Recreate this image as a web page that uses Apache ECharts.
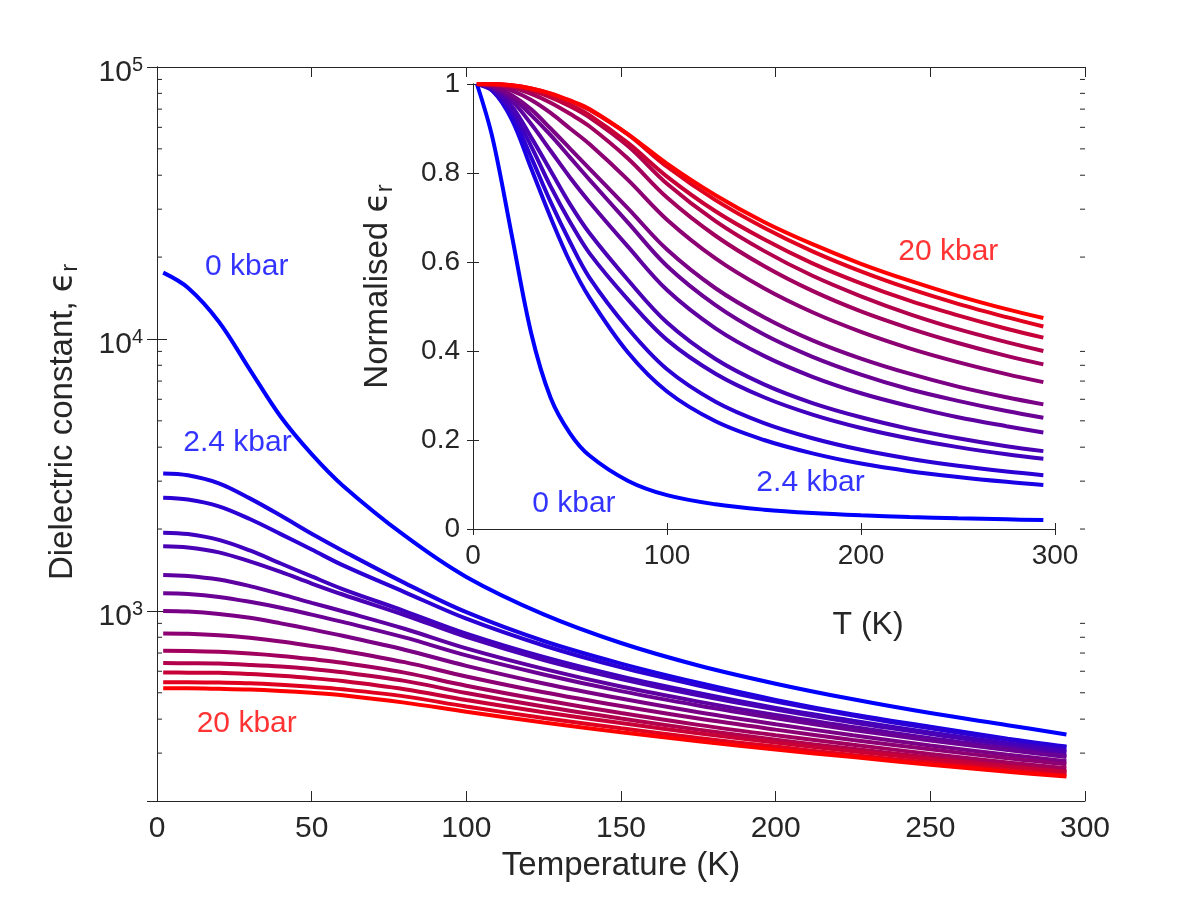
<!DOCTYPE html>
<html>
<head>
<meta charset="utf-8">
<title>Dielectric constant vs temperature</title>
<script src="https://cdn.jsdelivr.net/npm/echarts@6/dist/echarts.min.js"></script>
<style>
html, body { margin: 0; padding: 0; background: #fff; }
#chart { width: 1200px; height: 900px; }
</style>
</head>
<body>
<div id="chart"></div>
<script>
// temperature points (K), shared by both panels
var temps = [2, 10, 20, 30, 40, 50, 60, 80, 100, 125, 150, 175, 200, 225, 250, 275, 294];

// main panel: dielectric constant, one row per pressure (0 kbar ... 20 kbar)
var mainEps = [
    [17540, 15435, 11576, 7718, 5174, 3771, 2894, 1894, 1333, 971, 762, 630, 540, 473, 421, 380, 351],
    [3201, 3153, 2945, 2593, 2241, 1921, 1665, 1268, 989, 775, 640, 544, 471, 416, 375, 339, 317],
    [2607, 2568, 2425, 2177, 1916, 1682, 1473, 1173, 936, 746, 620, 532, 464, 412, 370, 336, 315],
    [1940, 1917, 1824, 1668, 1494, 1339, 1203, 999, 825, 677, 574, 499, 440, 395, 357, 326, 307],
    [1728, 1711, 1642, 1521, 1391, 1261, 1149, 966, 802, 660, 562, 489, 434, 389, 353, 321, 302],
    [1356, 1345, 1304, 1234, 1153, 1071, 997, 860, 728, 612, 527, 464, 414, 374, 340, 313, 294],
    [1161, 1154, 1126, 1080, 1027, 969, 911, 799, 686, 584, 507, 449, 403, 365, 334, 308, 290],
    [1000, 995, 975, 943, 900, 855, 810, 720, 628, 541, 476, 424, 383, 349, 320, 296, 280],
    [826, 824, 814, 796, 772, 743, 714, 648, 574, 502, 447, 402, 366, 335, 310, 287, 273],
    [713, 712, 707, 697, 683, 665, 645, 593, 531, 470, 421, 381, 349, 322, 298, 277, 264],
    [643, 642, 640, 633, 624, 611, 595, 553, 499, 445, 402, 366, 336, 311, 289, 270, 257],
    [594, 593, 592, 586, 577, 566, 552, 515, 470, 424, 387, 355, 328, 305, 285, 267, 255],
    [547, 547, 545, 542, 535, 526, 515, 485, 445, 404, 370, 341, 317, 295, 277, 260, 249],
    [519, 519, 517, 514, 508, 500, 490, 460, 426, 389, 358, 332, 309, 290, 272, 256, 246]
];

// inset: normalised dielectric constant, same rows
var normEps = [
    [1, 0.88, 0.66, 0.44, 0.295, 0.215, 0.165, 0.108, 0.076, 0.0554, 0.0434, 0.0359, 0.0308, 0.027, 0.024, 0.0217, 0.02],
    [1, 0.985, 0.92, 0.81, 0.70, 0.60, 0.52, 0.396, 0.309, 0.242, 0.200, 0.170, 0.147, 0.130, 0.117, 0.106, 0.099],
    [1, 0.985, 0.93, 0.835, 0.735, 0.645, 0.565, 0.45, 0.359, 0.286, 0.238, 0.204, 0.178, 0.158, 0.142, 0.129, 0.121],
    [1, 0.988, 0.94, 0.86, 0.77, 0.69, 0.62, 0.515, 0.425, 0.349, 0.296, 0.257, 0.227, 0.2035, 0.184, 0.168, 0.158],
    [1, 0.99, 0.95, 0.88, 0.805, 0.73, 0.665, 0.559, 0.464, 0.382, 0.325, 0.283, 0.251, 0.225, 0.204, 0.186, 0.175],
    [1, 0.992, 0.962, 0.91, 0.85, 0.79, 0.735, 0.634, 0.537, 0.451, 0.389, 0.342, 0.305, 0.276, 0.251, 0.231, 0.217],
    [1, 0.994, 0.97, 0.93, 0.885, 0.835, 0.785, 0.688, 0.591, 0.503, 0.437, 0.387, 0.347, 0.314, 0.288, 0.265, 0.25],
    [1, 0.995, 0.975, 0.943, 0.9, 0.855, 0.81, 0.72, 0.628, 0.541, 0.476, 0.424, 0.383, 0.349, 0.320, 0.296, 0.28],
    [1, 0.997, 0.985, 0.964, 0.935, 0.90, 0.865, 0.784, 0.695, 0.608, 0.541, 0.487, 0.443, 0.406, 0.375, 0.348, 0.33],
    [1, 0.998, 0.992, 0.978, 0.958, 0.933, 0.905, 0.832, 0.745, 0.659, 0.591, 0.535, 0.489, 0.451, 0.418, 0.389, 0.37],
    [1, 0.999, 0.995, 0.985, 0.97, 0.95, 0.925, 0.86, 0.776, 0.692, 0.625, 0.569, 0.523, 0.483, 0.449, 0.42, 0.40],
    [1, 0.999, 0.996, 0.987, 0.972, 0.953, 0.93, 0.867, 0.792, 0.714, 0.651, 0.597, 0.552, 0.513, 0.48, 0.45, 0.43],
    [1, 1, 0.997, 0.99, 0.978, 0.962, 0.942, 0.886, 0.814, 0.739, 0.677, 0.624, 0.579, 0.54, 0.506, 0.476, 0.455],
    [1, 1, 0.997, 0.99, 0.979, 0.963, 0.944, 0.887, 0.821, 0.75, 0.69, 0.64, 0.596, 0.558, 0.524, 0.494, 0.474]
];

// text labels placed at data coordinates [T, value]
var mainNotes = [
    { text: '0 kbar', at: [29, 18440], color: '#0000ff' },
    { text: '2.4 kbar', at: [26, 4160], color: '#0000ff' },
    { text: '20 kbar', at: [29, 384], color: '#ff0000' }
];
var insetNotes = [
    { text: '20 kbar', at: [245, 0.622], color: '#ff0000' },
    { text: '0 kbar', at: [52, 0.056], color: '#0000ff' },
    { text: '2.4 kbar', at: [174, 0.103], color: '#0000ff' }
];

// blue -> red, low pressure to high pressure
var lineColors = ['#0000ff', '#1a00e5', '#2b00d4', '#4000bf', '#4a00b5', '#5e00a1', '#6b0094',
    '#7a0085', '#8c0073', '#a1005e', '#b3004c', '#c70038', '#e0001f', '#ff0000'];

// minor ticks of the log axis
var minorTicks = [];
[100, 1000, 10000].forEach(function (d) {
    for (var k = 2; k <= 9; k++) {
        if (k * d > 200) minorTicks.push([0, k * d]);
    }
});

var ink = '#262626';
var font = '"Liberation Sans", Arial, Helvetica, sans-serif';
var greek = '"DejaVu Sans", sans-serif';

function pairs(row) {
    return row.map(function (v, i) { return [temps[i], v]; });
}

var chart = echarts.init(document.getElementById('chart'));

var series = [];
mainEps.forEach(function (row, i) {
    series.push({
        type: 'line', xAxisIndex: 0, yAxisIndex: 0, data: pairs(row),
        showSymbol: false, smooth: 0.35, silent: true, z: 2,
        lineStyle: { color: lineColors[i], width: 4 }
    });
});
normEps.forEach(function (row, i) {
    series.push({
        type: 'line', xAxisIndex: 1, yAxisIndex: 1, data: pairs(row),
        showSymbol: false, smooth: 0.35, silent: true, z: 7,
        lineStyle: { color: lineColors[i], width: 4 }
    });
});

function noteSeries(notes, xi, yi, z) {
    return {
        type: 'scatter', xAxisIndex: xi, yAxisIndex: yi, z: z, silent: true,
        symbolSize: 1, itemStyle: { color: 'rgba(0,0,0,0)' },
        data: notes.map(function (n) {
            return { value: n.at, name: n.text, label: { color: n.color } };
        }),
        label: {
            show: true, position: 'inside', formatter: '{b}',
            fontSize: 30, fontFamily: font
        }
    };
}
series.push(noteSeries(mainNotes, 0, 0, 3));
series.push(noteSeries(insetNotes, 1, 1, 8));

// minor ticks on left and right of the main log axis
series.push({
    type: 'custom', xAxisIndex: 0, yAxisIndex: 0, silent: true, z: 1,
    data: minorTicks,
    renderItem: function (params, api) {
        var v = api.value(1);
        var a = api.coord([0, v]);
        var b = api.coord([300, v]);
        var st = { stroke: ink, lineWidth: 1 };
        return {
            type: 'group',
            children: [
                { type: 'line', shape: { x1: a[0], y1: a[1], x2: a[0] + 5, y2: a[1] }, style: st },
                { type: 'line', shape: { x1: b[0], y1: b[1], x2: b[0] - 5, y2: b[1] }, style: st }
            ]
        };
    }
});

var logLabel = {
    color: ink, margin: 14, padding: [11, 0, 0, 0],
    formatter: function (v) {
        var e = Math.round(Math.log10(v));
        if (Math.abs(Math.log10(v) - e) > 1e-6) return '';
        return '{b|10}{s|' + e + '}';
    },
    rich: {
        b: { fontSize: 30, fontFamily: font, color: ink, lineHeight: 34 },
        s: { fontSize: 20, fontFamily: font, color: ink, verticalAlign: 'top', lineHeight: 20 }
    }
};

function boxAxis(extra) {
    var ax = {
        axisLine: { show: true, lineStyle: { color: ink, width: 1 } },
        axisLabel: { show: false }, splitLine: { show: false }
    };
    for (var k in extra) ax[k] = extra[k];
    return ax;
}

var option = {
    backgroundColor: '#fff',
    animation: false,
    textStyle: { fontFamily: font },
    grid: [
        { left: 157, top: 67, width: 928, height: 734, show: false },
        { left: 473, top: 84, width: 582, height: 445, show: true, backgroundColor: '#fff', borderWidth: 0, z: 5 }
    ],
    xAxis: [
        {
            gridIndex: 0, type: 'value', min: 0, max: 300, interval: 50,
            name: 'Temperature (K)', nameLocation: 'middle', nameGap: 48,
            nameTextStyle: { fontSize: 33, color: ink, fontFamily: font },
            axisLine: { show: true, lineStyle: { color: ink, width: 1 } },
            axisTick: { inside: true, length: 10, lineStyle: { color: ink } },
            axisLabel: { fontSize: 30, color: ink, margin: 13, fontFamily: font },
            splitLine: { show: false }
        },
        {
            gridIndex: 1, type: 'value', min: 0, max: 300, interval: 100, z: 6,
            name: 'T (K)', nameLocation: 'middle', nameGap: 80,
            nameTextStyle: { fontSize: 32, color: ink, fontFamily: font, padding: [0, 0, 0, 208] },
            axisLine: { show: true, lineStyle: { color: ink, width: 1 } },
            axisTick: { inside: true, length: 6, lineStyle: { color: ink } },
            axisLabel: { fontSize: 28, color: ink, margin: 13, fontFamily: font },
            splitLine: { show: false }
        },
        boxAxis({ gridIndex: 0, type: 'value', min: 0, max: 300, interval: 50, position: 'top',
            axisTick: { inside: true, length: 10, lineStyle: { color: ink } } }),
        boxAxis({ gridIndex: 1, type: 'value', min: 0, max: 300, interval: 100, position: 'top', z: 6,
            axisTick: { inside: true, length: 6, lineStyle: { color: ink } } })
    ],
    yAxis: [
        {
            gridIndex: 0, type: 'log', min: 200, max: 100000,
            name: 'Dielectric constant, {e|ϵ}{r|r}', nameLocation: 'middle', nameGap: 75,
            nameTextStyle: {
                fontSize: 33, color: ink, fontFamily: font, padding: [0, 0, 0, 24],
                rich: {
                    e: { fontSize: 33, color: ink, fontFamily: greek },
                    r: { fontSize: 24, color: ink, fontFamily: font, verticalAlign: 'bottom', padding: [14, 0, 0, 0] }
                }
            },
            axisLine: { show: true, lineStyle: { color: ink, width: 1 } },
            axisTick: { inside: true, length: 10, lineStyle: { color: ink } },
            axisLabel: logLabel,
            splitLine: { show: false }
        },
        {
            gridIndex: 1, type: 'value', min: 0, max: 1, interval: 0.2, z: 6,
            name: 'Normalised {e|ϵ}{r|r}', nameLocation: 'middle', nameGap: 76,
            nameTextStyle: {
                fontSize: 33, color: ink, fontFamily: font, padding: [0, 0, 0, 40],
                rich: {
                    e: { fontSize: 33, color: ink, fontFamily: greek },
                    r: { fontSize: 24, color: ink, fontFamily: font, verticalAlign: 'bottom', padding: [14, 0, 0, 0] }
                }
            },
            axisLine: { show: true, lineStyle: { color: ink, width: 1 } },
            axisTick: { inside: true, length: 6, lineStyle: { color: ink } },
            axisLabel: {
                fontSize: 28, color: ink, margin: 13, fontFamily: font,
                formatter: function (v) { return String(Math.round(v * 10) / 10); }
            },
            splitLine: { show: false }
        },
        boxAxis({ gridIndex: 0, type: 'log', min: 200, max: 100000, position: 'right',
            axisTick: { inside: true, length: 10, lineStyle: { color: ink } } }),
        boxAxis({ gridIndex: 1, type: 'value', min: 0, max: 1, interval: 0.2, position: 'right', z: 6,
            axisTick: { inside: true, length: 6, lineStyle: { color: ink } } })
    ],
    series: series
};

chart.setOption(option);
</script>
</body>
</html>
